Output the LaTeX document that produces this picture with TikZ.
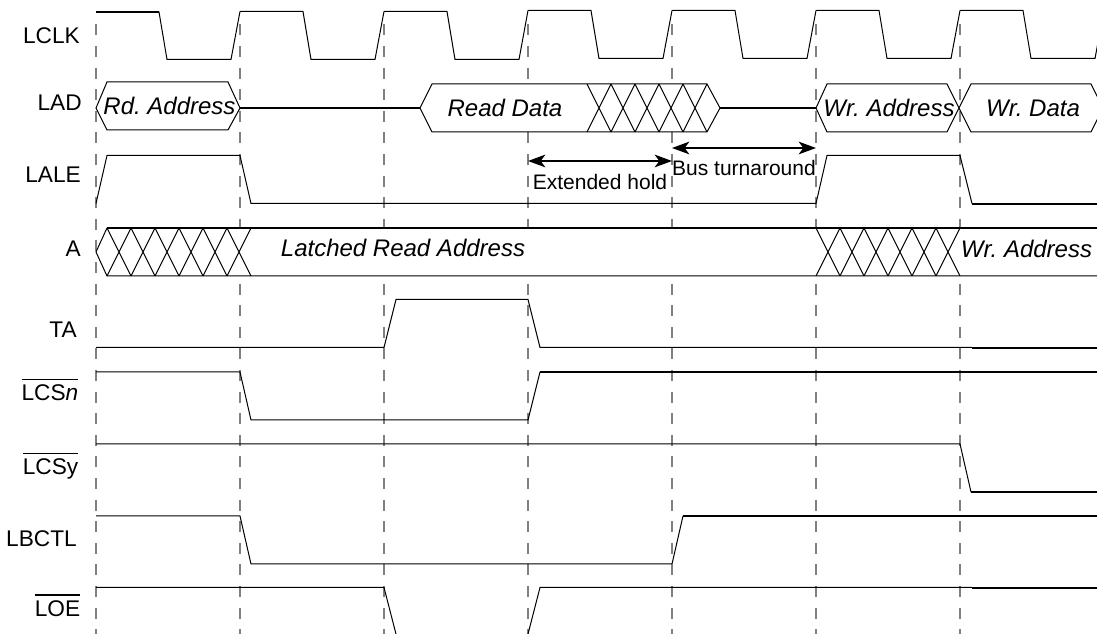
\documentclass[tikz,border=0pt]{standalone}
\usepackage{fontspec}
\setmainfont{Liberation Sans}
\usetikzlibrary{arrows.meta}
\frenchspacing
\newcommand{\barred}[1]{\vbox{\hrule height 1.1pt \kern 3.6pt \hbox{#1}}}
\tikzset{
  sig/.style={line width=0.75pt,black,line join=miter},
  heavy/.style={line width=1.15pt,black},
  edgeline/.style={line width=1pt,black!50,dash pattern=on 8.2pt off 8pt},
  bus/.style={sig,fill=white},
  signame/.style={anchor=base east,inner sep=0pt,font=\fontsize{17}{20}\selectfont},
  buslabel/.style={anchor=base,inner sep=0pt,font=\fontsize{18}{20}\selectfont\itshape},
  spanlabel/.style={anchor=base,inner sep=0pt,font=\fontsize{15.75}{18}\selectfont},
  spanline/.style={line width=1.1pt,{Stealth[length=13pt,width=9.5pt,inset=3.5pt]}-{Stealth[length=13pt,width=9.5pt,inset=3.5pt]}}
}
\begin{document}
\begin{tikzpicture}[x=0.75pt,y=-0.75pt]
  \useasboundingbox (0,0) rectangle (1097,634);
  \clip (0,0) rectangle (1097,634);
  % clock edges
  \foreach \x in {96,240,...,960}
    \draw[edgeline] (\x,24.5) -- (\x,634);
  % signal names
  \node[signame] (lclk) at (80,43.5) {LCLK};
  \node[signame] (lad) at (82,111) {LAD};
  \node[signame] (lale) at (81,183) {LALE};
  \node[signame] (addr) at (81,256.5) {A};
  \node[signame] (ta) at (77,338) {TA};
  \node[signame] (lcsn) at (78.5,401) {\barred{LCS\textit{n}}};
  \node[signame] (lcsy) at (78.5,475) {\barred{LCSy}};
  \node[signame] (lbctl) at (77,546.5) {LBCTL};
  \node[signame] (loe) at (80.5,616.5) {\barred{LOE}};
  % LCLK
  \foreach \x/\hi/\lo/\nxt in {96/12/59.5/11.5,240/11.5/59.5/11.5,384/11.5/59.5/10.5,528/10.5/58.5/10.5,672/10.5/58.5/10.5,816/10.5/58.5/10.5,960/10.5/58.5/10.5}
    \draw[sig] (\x,\hi) -- (\x+63,\hi) -- (\x+71,\lo) -- (\x+135,\lo) -- (\x+144,\nxt);
  \draw[heavy] (96,12) -- (159,12);
  % LAD
  \draw[bus] (96,108) -- (107,82) -- (228,82) -- (240,108) -- (228,130) -- (107,130) -- cycle;
  \draw[heavy] (240,108) -- (420,108);
  \draw[bus] (420,108) -- (432,84) -- (707,84) -- (720,108) -- (707,132) -- (432,132) -- cycle;
  \foreach \x in {587,611,...,683}
    \draw[sig] (\x,84) -- (\x+24,132) (\x,132) -- (\x+24,84);
  \draw[heavy] (720,108) -- (816,108);
  \draw[bus] (816,108) -- (827,84) -- (947,84) -- (971,132) -- (1091,132) -- (1103,108) -- (1091,84) -- (971,84) -- (947,132) -- (827,132) -- cycle;
  \node[buslabel] (rdaddr) at (169.5,115) {Rd. Address};
  \node[buslabel] (rddata) at (505,116.5) {Read Data};
  \node[buslabel] (wraddr) at (889,116.5) {Wr. Address};
  \node[buslabel] (wrdata) at (1033,116.5) {Wr. Data};
  % LALE
  \draw[sig] (96,203.5) -- (107,155.5) -- (240,155.5) -- (251,203.5) -- (816,203.5) -- (827,155.5) -- (960,155.5) -- (972,203.5);
  \draw[heavy] (972,204) -- (1097,204);
  % A
  \fill[white] (96,252) -- (107,228) -- (1097,228) -- (1097,276) -- (107,276) -- cycle;
  \draw[heavy] (107,228) -- (1097,228);
  \draw[sig] (1097,276) -- (107,276) -- (96,252) -- (107,228);
  \foreach \x in {107,131,...,227,816,840,...,936}
    \draw[sig] (\x,228) -- (\x+24,276) (\x,276) -- (\x+24,228);
  \node[buslabel] (latched) at (403,256.5) {Latched Read Address};
  \node[buslabel] (wrlatched) at (1026.5,258) {Wr. Address};
  % control lines
  \draw[sig] (96,347.5) -- (384,347.5) -- (396,299.5) -- (528,299.5) -- (540,347.5) -- (972,347.5);
  \draw[heavy] (972,348) -- (1097,348);
  \draw[sig] (96,372) -- (240,372) -- (251,420) -- (528,420) -- (540,372);
  \draw[heavy] (540,372) -- (1097,372);
  \draw[sig] (96,444) -- (960,444) -- (971,492);
  \draw[heavy] (971,492) -- (1097,492);
  \draw[sig] (96,516) -- (240,516) -- (251,564) -- (672,564) -- (683,516);
  \draw[heavy] (683,516) -- (1097,516);
  \draw[sig] (96,587.5) -- (384,587.5) -- (396.5,636) -- (527.5,636) -- (540,587.5) -- (972,587.5);
  \draw[heavy] (972,588) -- (1097,588);
  % timing spans
  \coordinate (holda) at (528,161);
  \coordinate (holdb) at (672,161);
  \coordinate (turna) at (672,148);
  \coordinate (turnb) at (816,148);
  \draw[spanline] (holda) -- (holdb);
  \draw[spanline] (turna) -- (turnb);
  \node[spanlabel] (hold) at (600,190) {Extended hold};
  \node[spanlabel] (turn) at (744,176) {Bus turnaround};
\end{tikzpicture}
\end{document}
